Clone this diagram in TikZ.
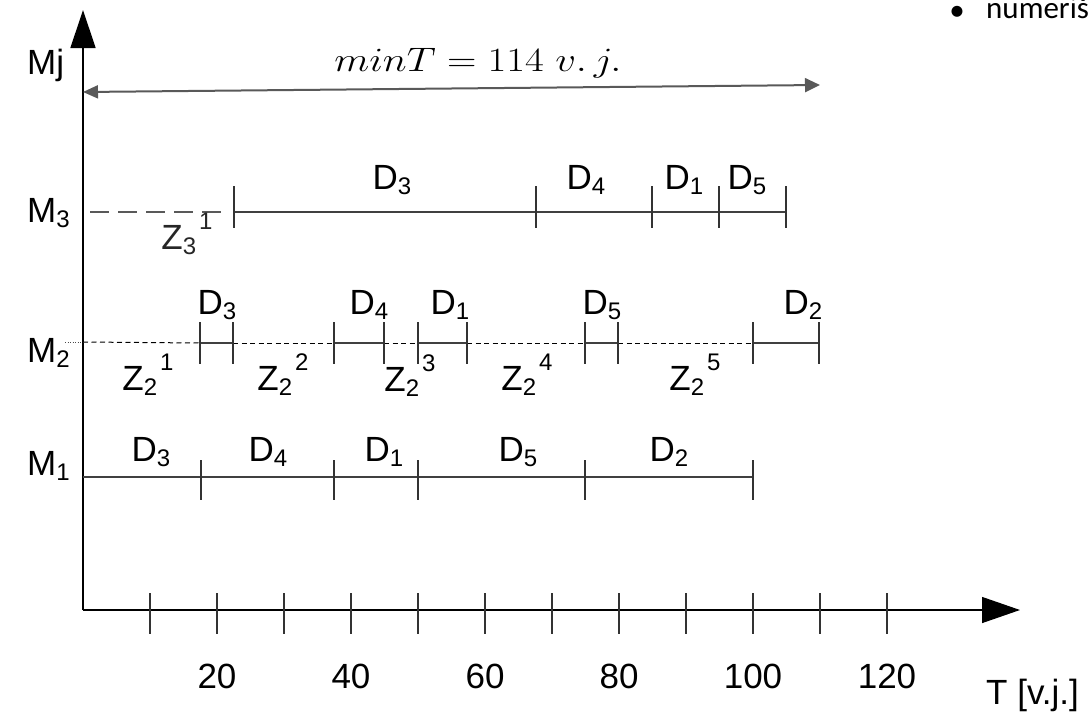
\RequirePackage{fix-cm}
\documentclass[tikz,border=0pt]{standalone}
\usepackage{fontspec}
\setmainfont{Liberation Sans}
\newfontfamily\calib{Carlito}
\usetikzlibrary{arrows.meta}
\newcommand{\sbx}[1]{\raisebox{-5pt}{\fontsize{24}{24}\selectfont #1}}
\newcommand{\spx}[1]{\hspace{3pt}\raisebox{20pt}{\fontsize{24}{24}\selectfont #1}}
\definecolor{agray}{HTML}{595959}
\begin{document}
\begin{tikzpicture}[x=1pt,y=-1pt,
  lbl/.style={font=\fontsize{35}{40}\selectfont, inner sep=0pt, anchor=base},
  axisline/.style={line width=1.3pt, black},
  tline/.style={line width=1.1pt, draw=black!75},
  tk/.style={line width=1.1pt, draw=black!80},
  gdash/.style={line width=1.7pt, draw=agray, dash pattern=on 19pt off 9pt},
  sdash/.style={line width=1pt, draw=black, dash pattern=on 5pt off 3.5pt},
  sdot/.style={line width=1pt, draw=black!70, dash pattern=on 1pt off 1.5pt}]
\path[use as bounding box] (0,0) rectangle (1092,712);
\clip (0,0) rectangle (1092,712);

% axes
\coordinate (O) at (83,610);
\coordinate (Ytip) at (83,10);
\coordinate (Xtip) at (1020,610);
\draw[axisline,-{Triangle[length=38pt,width=25pt]}] (O) -- (Ytip);
\draw[axisline,-{Triangle[length=38pt,width=26pt]}] (O) -- (Xtip);
\foreach \k in {1,...,12} \draw[tk] (83+67*\k,593) -- (83+67*\k,634);
\foreach \v/\k in {20/2,40/4,60/6,80/8,100/10,120/12}
  \node[lbl] (n\v) at (83+67*\k,688) {\v};
\node[lbl, anchor=base west] (Tlab) at (986,704) {T [v.j.]};
\node[lbl, anchor=base west] (Mj) at (27,74) {Mj};

% minT arrow
\coordinate (AL) at (83,92);
\coordinate (AR) at (820,85);
\draw[agray, line width=2pt, {Triangle[length=15pt,width=13pt]}-{Triangle[length=15pt,width=14pt]}] (AL) -- (AR);
\node[anchor=base, inner sep=0pt] (mint) at (478,71) {\scalebox{1.2}[1]{\fontsize{34}{36}\selectfont $minT = 114\ v.\,j.$}};

% bullet text
\node[inner sep=0pt] (bul) at (957,13) {\calib\fontsize{31}{33}\selectfont •};
\node[anchor=base west, inner sep=0pt] (num) at (986,19) {\calib\fontsize{31}{33}\selectfont numeriš};

% row labels
\node[lbl, anchor=base west] (M3) at (27,222) {M\sbx{3}};
\node[lbl, anchor=base west] (M2) at (27,362) {M\sbx{2}};
\node[lbl, anchor=base west] (M1) at (27,475) {M\sbx{1}};

% M3 row
\coordinate (m3s) at (90,212);
\coordinate (m3e) at (222,212);
\coordinate (m3a) at (234,212);
\coordinate (m3f) at (786,212);
\draw[gdash] (m3s) -- (m3e);
\draw[tline] (m3a) -- (m3f);
\foreach \x in {234,536,652,719,786} \draw[tk] (\x,186) -- (\x,228);
\node[lbl] (d33) at (392,189) {D\sbx{3}};
\node[lbl] (d34) at (586,189) {D\sbx{4}};
\node[lbl] (d31) at (684,189) {D\sbx{1}};
\node[lbl] (d35) at (747,189) {D\sbx{5}};
\node[lbl, text=black!85] (z31) at (187,249) {Z\sbx{3}\spx{1}};

% M2 row
\coordinate (p0) at (65,342);
\coordinate (p1) at (83,342);
\draw[sdot] (p0) -- (p1);
\draw[sdash] (p1) -- (200,343);
\draw[tline] (200,343) -- (233,343);
\draw[sdash] (233,343) -- (334,343);
\draw[tline] (334,343) -- (384,343);
\draw[sdash] (384,343) -- (418,343);
\draw[tline] (418,343) -- (467,343);
\draw[sdash] (467,343) -- (585,343);
\draw[tline] (585,343) -- (618,343);
\draw[sdash] (618,343) -- (753,343);
\draw[tline] (753,343) -- (819,343);
\foreach \x in {200,233,334,384,418,467,585,618,753,819} \draw[tk] (\x,322) -- (\x,364);
\node[lbl] (d23) at (217,314) {D\sbx{3}};
\node[lbl] (d24) at (369,314) {D\sbx{4}};
\node[lbl] (d21) at (450,314) {D\sbx{1}};
\node[lbl] (d25) at (602,314) {D\sbx{5}};
\node[lbl] (d22) at (803,314) {D\sbx{2}};
\node[lbl] (z21) at (148,390) {Z\sbx{2}\spx{1}};
\node[lbl] (z22) at (283,390) {Z\sbx{2}\spx{2}};
\node[lbl] (z23) at (410,391) {Z\sbx{2}\spx{3}};
\node[lbl] (z24) at (527,390) {Z\sbx{2}\spx{4}};
\node[lbl] (z25) at (695,390) {Z\sbx{2}\spx{5}};

% M1 row
\coordinate (m1a) at (83,477);
\coordinate (m1f) at (753,477);
\draw[tline] (m1a) -- (m1f);
\foreach \x in {201,334,418,585,753} \draw[tk] (\x,460) -- (\x,500);
\node[lbl] (d13) at (151,461) {D\sbx{3}};
\node[lbl] (d14) at (268,461) {D\sbx{4}};
\node[lbl] (d11) at (384,461) {D\sbx{1}};
\node[lbl] (d15) at (518,461) {D\sbx{5}};
\node[lbl] (d12) at (669,461) {D\sbx{2}};
\end{tikzpicture}
\end{document}
